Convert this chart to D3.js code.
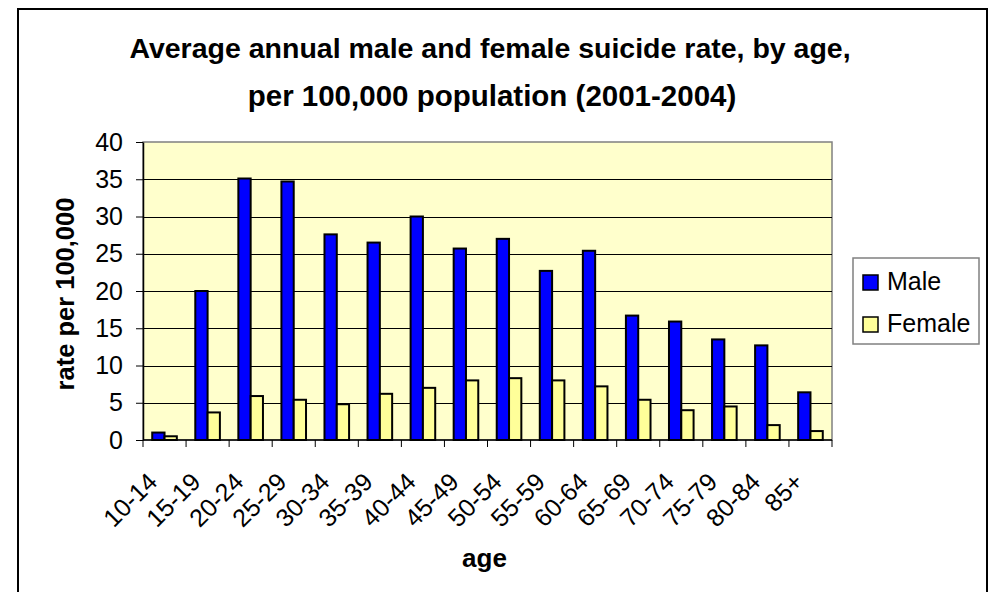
<!DOCTYPE html>
<html>
<head>
<meta charset="utf-8">
<script src="https://cdn.jsdelivr.net/npm/d3@7"></script>
<style>
  html, body { margin: 0; padding: 0; background: #fff; }
  svg { display: block; font-family: Arial, "Liberation Sans", sans-serif; }
</style>
</head>
<body>
<svg id="chart" width="991" height="592"></svg>
<script>
// Age groups and suicide rates per 100,000 population (2001-2004 annual averages)
const ageGroups = ["10-14","15-19","20-24","25-29","30-34","35-39","40-44","45-49",
                   "50-54","55-59","60-64","65-69","70-74","75-79","80-84","85+"];
const maleRates   = [1.0, 20.0, 35.1, 34.7, 27.6, 26.5, 30.0, 25.7, 27.0, 22.7, 25.4, 16.7, 15.9, 13.5, 12.7, 6.4];
const femaleRates = [0.5, 3.7, 5.9, 5.4, 4.8, 6.2, 7.0, 8.0, 8.3, 8.0, 7.2, 5.4, 4.0, 4.5, 2.0, 1.2];
const seriesNames = ["Male", "Female"];
const yTicks = [0, 5, 10, 15, 20, 25, 30, 35, 40];

const colors = { Male: "#0000ff", Female: "#ffff99" };

const svg = d3.select("#chart");

// Outer chart frame
svg.append("rect")
  .attr("x", 18).attr("y", 9)
  .attr("width", 969).attr("height", 600)
  .attr("fill", "#fff").attr("stroke", "#000").attr("stroke-width", 2);

const plot = { left: 143, right: 832, top: 142, bottom: 440 };

const x0 = d3.scaleBand().domain(ageGroups).range([plot.left, plot.right]);
const x1 = d3.scaleBand().domain(seriesNames).range([0, x0.bandwidth()])
  .paddingInner(0).paddingOuter(0.75);
const y = d3.scaleLinear().domain([0, 40]).range([plot.bottom, plot.top]);

// Plot background
svg.append("rect")
  .attr("x", plot.left).attr("y", plot.top)
  .attr("width", plot.right - plot.left).attr("height", plot.bottom - plot.top)
  .attr("fill", "#ffffcc").attr("stroke", "#808080").attr("stroke-width", 1.5);

// Horizontal gridlines
svg.append("g")
  .selectAll("line")
  .data(yTicks.filter(t => t > 0 && t < 40))
  .join("line")
  .attr("x1", plot.left).attr("x2", plot.right)
  .attr("y1", d => Math.round(y(d)) + 0.5).attr("y2", d => Math.round(y(d)) + 0.5)
  .attr("stroke", "#000").attr("stroke-width", 1);

// Bars
const rows = ageGroups.map((a, i) => ({ age: a, Male: maleRates[i], Female: femaleRates[i] }));
svg.append("g")
  .selectAll("g")
  .data(rows)
  .join("g")
  .attr("transform", d => `translate(${x0(d.age)},0)`)
  .selectAll("rect")
  .data(d => seriesNames.map(k => ({ key: k, value: d[k] })))
  .join("rect")
  .attr("x", d => x1(d.key))
  .attr("y", d => y(d.value))
  .attr("width", x1.bandwidth())
  .attr("height", d => y(0) - y(d.value))
  .attr("fill", d => colors[d.key])
  .attr("stroke", "#000")
  .attr("stroke-width", 2);

// Y axis
const yAxis = svg.append("g")
  .attr("transform", `translate(${plot.left},0)`)
  .call(d3.axisLeft(y).tickValues(yTicks).tickSize(7).tickPadding(13).tickSizeOuter(0));
yAxis.select(".domain").attr("stroke", "#000").attr("stroke-width", 1.5);
yAxis.selectAll(".tick line").attr("stroke", "#000");
yAxis.selectAll(".tick text")
  .attr("font-size", 25).attr("fill", "#000")
  .attr("font-family", "Arial, 'Liberation Sans', sans-serif");

// X axis: ticks between categories
const xAxis = svg.append("g")
  .attr("transform", `translate(0,${plot.bottom})`);
xAxis.append("line")
  .attr("x1", plot.left).attr("x2", plot.right)
  .attr("stroke", "#000").attr("stroke-width", 1.5);
xAxis.selectAll("line.tick")
  .data(ageGroups.map(a => x0(a)).concat([plot.right]))
  .join("line")
  .attr("class", "tick")
  .attr("x1", d => d).attr("x2", d => d)
  .attr("y1", 0).attr("y2", 7)
  .attr("stroke", "#000");
xAxis.selectAll("text")
  .data(ageGroups)
  .join("text")
  .attr("transform", d => `translate(${x0(d) + x0.bandwidth() / 2 - 18},${31}) rotate(-45)`)
  .attr("text-anchor", "end")
  .attr("dy", "0.7em")
  .attr("font-size", 25)
  .text(d => d);

// Titles
const title = svg.append("text")
  .attr("text-anchor", "middle")
  .attr("font-weight", "bold");
title.append("tspan").attr("x", 490).attr("y", 58).attr("font-size", 28.5)
  .text("Average annual male and female suicide rate, by age,");
title.append("tspan").attr("x", 492).attr("y", 106).attr("font-size", 29.5)
  .text("per 100,000 population (2001-2004)");

svg.append("text")
  .attr("x", (plot.left + plot.right) / 2 - 3).attr("y", 567)
  .attr("text-anchor", "middle")
  .attr("font-weight", "bold").attr("font-size", 26)
  .text("age");

svg.append("text")
  .attr("transform", `translate(74,${(plot.top + plot.bottom) / 2 + 3}) rotate(-90)`)
  .attr("text-anchor", "middle")
  .attr("font-weight", "bold").attr("font-size", 25.5)
  .text("rate per 100,000");

// Legend
const legend = svg.append("g").attr("transform", "translate(853,258)");
legend.append("rect")
  .attr("width", 126).attr("height", 86)
  .attr("fill", "#fff").attr("stroke", "#808080").attr("stroke-width", 1.5);
const items = legend.selectAll("g.item")
  .data(seriesNames)
  .join("g")
  .attr("class", "item")
  .attr("transform", (d, i) => `translate(10,${17 + i * 42})`);
items.append("rect")
  .attr("width", 15).attr("height", 15)
  .attr("fill", d => colors[d]).attr("stroke", "#000").attr("stroke-width", 1.5);
items.append("text")
  .attr("x", 24).attr("y", 15)
  .attr("font-size", 25)
  .text(d => d);
</script>
</body>
</html>
